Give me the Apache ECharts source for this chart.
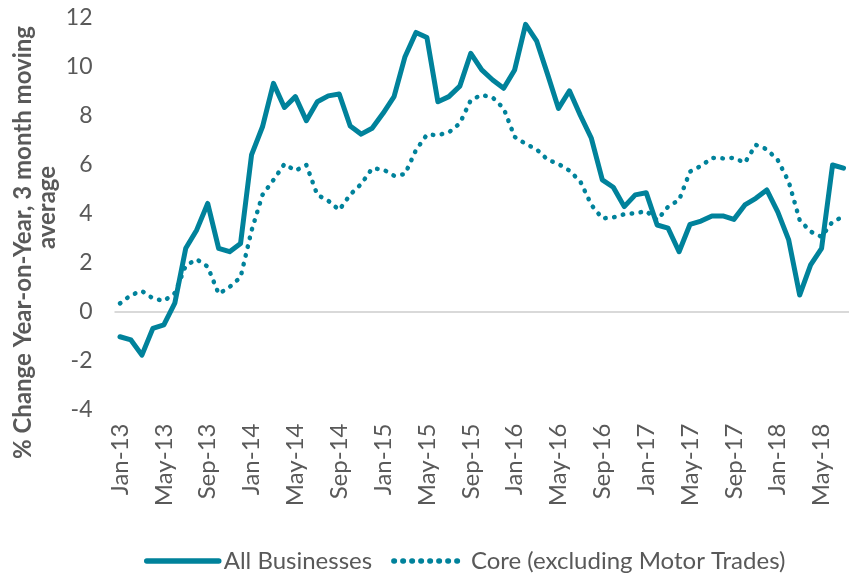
<!DOCTYPE html>
<html>
<head>
<meta charset="utf-8">
<script src="https://cdn.jsdelivr.net/npm/echarts@6/dist/echarts.min.js"></script>
<style>
  html, body { margin: 0; padding: 0; background: #fff; }
  #chart { width: 849px; height: 578px; }
</style>
</head>
<body>
<div id="chart"></div>
<script>
// month labels Jan-13 .. Jul-18
var monthNames = ['Jan', 'Feb', 'Mar', 'Apr', 'May', 'Jun', 'Jul', 'Aug', 'Sep', 'Oct', 'Nov', 'Dec']
var years = ['13', '14', '15', '16', '17', '18']
var categories = []
years.forEach(function (y) {
  monthNames.forEach(function (m) {
    categories.push(m + '-' + y)
  })
})
categories = categories.slice(0, 67)

var yTicks = [-4, -2, 0, 2, 4, 6, 8, 10, 12]

var allBusinesses = [
  -1.03, -1.16, -1.78, -0.69, -0.55, 0.34, 2.58, 3.33, 4.41, 2.58, 2.44, 2.78,
  6.39, 7.54, 9.31, 8.33, 8.77, 7.79, 8.56, 8.8, 8.88, 7.57, 7.24, 7.48,
  8.09, 8.77, 10.4, 11.39, 11.18, 8.56, 8.77, 9.2, 10.54, 9.86, 9.45, 9.11,
  9.86, 11.72, 11.05, 9.69, 8.29, 9.01, 8.0, 7.07, 5.37, 5.07, 4.28, 4.76,
  4.85, 3.53, 3.4, 2.44, 3.56, 3.69, 3.9, 3.9, 3.76, 4.35, 4.62, 4.96,
  4.07, 2.92, 0.67, 1.9, 2.58, 5.98, 5.85
]

var coreExMotor = [
  0.33, 0.67, 0.84, 0.54, 0.43, 0.75, 1.87, 2.13, 1.83, 0.72, 1.0, 1.4,
  3.3, 4.76, 5.37, 6.02, 5.75, 5.98, 4.76, 4.52, 4.14, 4.77, 5.2, 5.84,
  5.8, 5.54, 5.61, 6.59, 7.22, 7.2, 7.31, 7.68, 8.63, 8.84, 8.73, 8.29,
  7.13, 6.84, 6.62, 6.2, 6.02, 5.75, 5.3, 4.35, 3.8, 3.84, 3.97, 4.01,
  4.1, 3.73, 4.28, 4.55, 5.71, 5.94, 6.27, 6.25, 6.27, 6.07, 6.8, 6.62,
  6.18, 5.3, 3.73, 3.26, 3.05, 3.67, 3.87
]

var teal = '#00829B'
var grey = '#595959'

var chart = echarts.init(document.getElementById('chart'))
chart.setOption({
  animation: false,
  textStyle: { fontFamily: 'Lato' },
  grid: { left: 114.5, top: 17.5, bottom: 168.5, width: 743.7 },
  legend: {
    left: 139,
    top: 544,
    itemWidth: 72,
    itemHeight: 14,
    itemGap: 19,
    itemStyle: { opacity: 0 },
    lineStyle: { width: 5.5, cap: 'round' },
    textStyle: { color: grey, fontSize: 24, fontFamily: 'Lato' },
    data: ['All Businesses', 'Core (excluding Motor Trades)']
  },
  graphic: [
    {
      type: 'text',
      x: 23, y: 242.5,
      rotation: Math.PI / 2,
      style: {
        text: '% Change Year-on-Year, 3 month moving',
        fill: grey, fontSize: 24, fontWeight: 'bold', fontFamily: 'Lato',
        align: 'center', verticalAlign: 'middle'
      }
    },
    {
      type: 'text',
      x: 47, y: 207.5,
      rotation: Math.PI / 2,
      style: {
        text: 'average',
        fill: grey, fontSize: 24, fontWeight: 'bold', fontFamily: 'Lato',
        align: 'center', verticalAlign: 'middle'
      }
    }
  ],
  xAxis: {
    type: 'category',
    data: categories,
    boundaryGap: true,
    axisLine: { show: false, onZero: false },
    axisTick: { show: false },
    axisLabel: {
      interval: 3,
      rotate: 90,
      margin: 14,
      color: grey,
      fontSize: 24,
      fontFamily: 'Lato'
    }
  },
  yAxis: {
    type: 'value',
    min: yTicks[0],
    max: yTicks[yTicks.length - 1],
    interval: 2,
    axisLine: { show: false },
    axisTick: { show: false },
    splitLine: { show: false },
    axisLabel: { color: grey, fontSize: 23, margin: 22, fontFamily: 'Lato' }
  },
  series: [
    {
      name: 'All Businesses',
      type: 'line',
      data: allBusinesses,
      symbol: 'none',
      z: 3,
      color: teal,
      lineStyle: { color: teal, width: 5, cap: 'round', join: 'round' },
      markLine: {
        silent: true,
        symbol: 'none',
        label: { show: false },
        lineStyle: { color: '#d9d9d9', width: 2, type: 'solid' },
        data: [{ yAxis: 0 }],
        z: 1
      }
    },
    {
      name: 'Core (excluding Motor Trades)',
      type: 'line',
      data: coreExMotor,
      symbol: 'none',
      z: 2,
      color: teal,
      lineStyle: { color: teal, width: 4.5, type: [0.5, 8.5], cap: 'round', join: 'round' }
    }
  ]
})
</script>
</body>
</html>
